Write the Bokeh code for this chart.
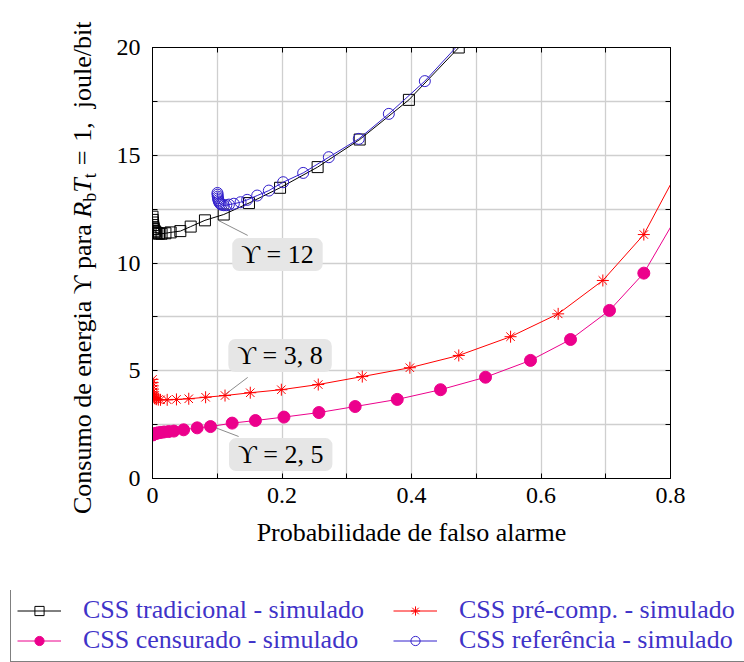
from bokeh.plotting import figure
from bokeh.layouts import column, row
from bokeh.models import Range1d, FixedTicker, LinearAxis, Legend, LegendItem, Label, Div
from bokeh.embed import file_html
from bokeh.resources import INLINE

# ---------------- data ----------------
trad_x = [0.0, 0.0003, 0.0006, 0.001, 0.0015, 0.002, 0.003, 0.004, 0.0055, 0.0075, 0.010,
          0.014, 0.020, 0.028, 0.043, 0.059, 0.081, 0.110, 0.149, 0.197, 0.255, 0.320, 0.396, 0.473]
trad_y = [12.15, 12.0, 11.88, 11.76, 11.66, 11.58, 11.5, 11.45, 11.41, 11.38, 11.36,
          11.36, 11.38, 11.42, 11.48, 11.69, 11.98, 12.25, 12.78, 13.49, 14.45, 15.73, 17.57, 20.0]

ref_x = [0.1003, 0.1005, 0.1008, 0.1012, 0.1018, 0.1026, 0.1036, 0.105, 0.107, 0.110, 0.114,
         0.118, 0.1256, 0.136, 0.1462, 0.1617, 0.1797, 0.2018, 0.2327, 0.2723, 0.3186, 0.365, 0.4206, 0.49]
ref_y = [13.25, 13.17, 13.08, 13.0, 12.92, 12.85, 12.79, 12.74, 12.7, 12.68, 12.68,
         12.71, 12.75, 12.82, 12.93, 13.13, 13.36, 13.75, 14.18, 14.91, 15.76, 16.92, 18.44, 20.7]

pre_x = [0.0, 0.0002, 0.0004, 0.0007, 0.001, 0.0014, 0.002, 0.0028, 0.004, 0.006, 0.009, 0.0124,
         0.0227, 0.037, 0.056, 0.082, 0.112, 0.151, 0.199, 0.256, 0.324, 0.3975, 0.473, 0.553,
         0.6265, 0.6955, 0.7588, 0.82]
pre_y = [4.6, 4.45, 4.3, 4.15, 4.02, 3.92, 3.83, 3.76, 3.71, 3.68, 3.66, 3.65,
         3.65, 3.67, 3.70, 3.77, 3.85, 3.98, 4.12, 4.36, 4.73, 5.14, 5.71, 6.58,
         7.64, 9.19, 11.32, 14.77]

cen_x = [0.0, 0.001, 0.002, 0.004, 0.006, 0.009, 0.013, 0.018, 0.025, 0.033, 0.048, 0.069,
         0.0896, 0.123, 0.159, 0.203, 0.257, 0.313, 0.378, 0.4448, 0.5143, 0.5838, 0.6456,
         0.7058, 0.7588, 0.82]
cen_y = [2.02, 2.04, 2.06, 2.08, 2.10, 2.12, 2.14, 2.16, 2.18, 2.20, 2.26, 2.35,
         2.41, 2.57, 2.69, 2.85, 3.06, 3.34, 3.67, 4.12, 4.70, 5.48, 6.45,
         7.80, 9.53, 12.69]

x_ticks = [0, 0.2, 0.4, 0.6, 0.8]
x_tick_labels = ["0", "0.2", "0.4", "0.6", "0.8"]
x_minor = [0.1, 0.3, 0.5, 0.7]
y_ticks = [0, 5, 10, 15, 20]
y_tick_labels = ["0", "5", "10", "15", "20"]
y_minor = [2.5, 7.5, 12.5, 17.5]

series_labels = ["CSS tradicional - simulado", "CSS pré-comp. - simulado",
                 "CSS censurado - simulado", "CSS referência - simulado"]

# annotation boxes: text, box centre, pin start, pin end (data coords)
ann_text = ["ϒ = 12", "ϒ = 3, 8", "ϒ = 2, 5"]
ann_cx = [0.193, 0.197, 0.198]
ann_cy = [10.39, 5.71, 1.11]
pin_x0 = [0.102, 0.110, 0.0927]
pin_y0 = [11.97, 3.85, 2.41]
pin_x1 = [0.147, 0.147, 0.133]
pin_y1 = [11.28, 4.69, 1.95]

# ---------------- styles ----------------
FONT = "Liberation Serif"
FS = "26px"
BLACK = "#000000"
RED = "#ff0000"
PINK = "#ec008c"
BLUE = "#3320cc"
LEG_TXT = "#3f33c8"
GRID = "#cfcfcf"

LAB_W = 104      # width of the strip holding the rotated y title
TOP_H = 590      # height of the chart row
LEG_H = 72       # height of the legend strip

p = figure(width=744 - LAB_W, height=TOP_H, output_backend="svg", toolbar_location=None,
           x_range=Range1d(0, 0.8), y_range=Range1d(0, 20),
           min_border_left=152 - LAB_W, min_border_right=74, min_border_top=47,
           min_border_bottom=TOP_H - 478)
p.outline_line_color = "black"
p.outline_line_width = 1

xt = FixedTicker(ticks=x_ticks, minor_ticks=x_minor)
yt = FixedTicker(ticks=y_ticks, minor_ticks=y_minor)

for ax, tk, labs, vals in ((p.xaxis[0], xt, x_tick_labels, x_ticks), (p.yaxis[0], yt, y_tick_labels, y_ticks)):
    ax.ticker = tk
    ax.major_label_overrides = dict(zip(vals, labs))
    ax.major_label_text_font = FONT
    ax.major_label_text_font_size = "24px"
    ax.major_label_text_color = "black"
    ax.major_tick_in = 5
    ax.major_tick_out = 0
    ax.minor_tick_in = 5
    ax.minor_tick_out = 0
    ax.major_tick_line_color = "black"
    ax.minor_tick_line_color = "black"
    ax.axis_line_color = "black"

p.xaxis[0].major_label_standoff = 9
p.yaxis[0].major_label_standoff = 12
p.xaxis[0].axis_label = "Probabilidade de falso alarme"
p.xaxis[0].axis_label_text_font = FONT
p.xaxis[0].axis_label_text_font_size = FS
p.xaxis[0].axis_label_text_font_style = "normal"
p.xaxis[0].axis_label_text_color = "black"
p.xaxis[0].axis_label_standoff = 12

for loc, tk, vals in (("right", yt, y_ticks), ("above", xt, x_ticks)):
    ax = LinearAxis(ticker=tk, major_label_overrides={v: "" for v in vals},
                    major_tick_in=5, major_tick_out=0, minor_tick_in=5, minor_tick_out=0,
                    major_tick_line_color="black", minor_tick_line_color="black",
                    axis_line_color="black", major_label_text_font_size="10px")
    p.add_layout(ax, loc)

p.xgrid.ticker = xt
p.ygrid.ticker = yt
for g in (p.xgrid[0], p.ygrid[0]):
    g.grid_line_color = GRID
    g.grid_line_width = 1.3
    g.minor_grid_line_color = GRID
    g.minor_grid_line_width = 1.3

# pin lines
p.segment(pin_x0, pin_y0, pin_x1, pin_y1, line_color="#8c8c8c", line_width=1)


def draw_series(fig):
    out = []
    out.append((fig.line(trad_x, trad_y, line_color=BLACK, line_width=1),
                fig.scatter(trad_x, trad_y, marker="square", size=11, line_color=BLACK,
                            fill_color=None, line_width=1)))
    out.append((fig.line(pre_x, pre_y, line_color=RED, line_width=1),
                fig.scatter(pre_x, pre_y, marker="asterisk", size=12, line_color=RED, line_width=1)))
    out.append((fig.line(cen_x, cen_y, line_color=PINK, line_width=1),
                fig.scatter(cen_x, cen_y, marker="circle", size=12, line_color=PINK, fill_color=PINK)))
    out.append((fig.line(ref_x, ref_y, line_color=BLUE, line_width=1),
                fig.scatter(ref_x, ref_y, marker="circle", size=11, line_color=BLUE,
                            fill_color=None, line_width=1)))
    return out


draw_series(p)

# annotation boxes
for t, cx, cy in zip(ann_text, ann_cx, ann_cy):
    p.add_layout(Label(x=cx, y=cy, text=t, text_align="center", text_baseline="middle",
                       text_font=FONT, text_font_size=FS, text_color="black",
                       background_fill_color="#e6e6e6", background_fill_alpha=1.0,
                       border_radius=7,
                       padding=dict(left=9, right=9, top=2, bottom=2)))

# ---------------- y title (rotated HTML text, real text) ----------------
SUB = "font-size:18px;vertical-align:-5px;line-height:0;font-style:normal"
ytitle_html = (
    '<div style="position:relative;width:%dpx;height:%dpx;overflow:visible;">'
    '<div style="position:absolute;left:70px;top:514px;transform-origin:0 0;'
    'transform:rotate(-90deg);white-space:nowrap;font-family:\'Liberation Serif\';'
    'font-size:26px;line-height:26px;color:#000;">'
    'Consumo de energia ϒ para '
    '<i>R</i><span style="%s">b</span><i>T</i><span style="%s">t</span>'
    '<span style="margin-left:8px">=</span>'
    '<span style="margin-left:9px">1,</span>'
    '<span style="margin-left:14px">joule/bit</span>'
    '</div></div>'
) % (LAB_W, TOP_H, SUB, SUB)
ytitle = Div(text=ytitle_html, width=LAB_W, height=TOP_H, margin=0)

# ---------------- legend strip ----------------
leg = figure(width=744, height=LEG_H, output_backend="svg", toolbar_location=None,
             x_range=Range1d(0, 744), y_range=Range1d(1000, 1100),
             x_axis_type=None, y_axis_type=None,
             min_border_left=0, min_border_right=0, min_border_top=0, min_border_bottom=0)
leg.outline_line_color = None
leg.grid.visible = False
rs = draw_series(leg)
legend = Legend(items=[LegendItem(label=series_labels[i], renderers=list(rs[i])) for i in range(4)],
                location=(10, 0), orientation="horizontal", ncols=2,
                label_text_font=FONT, label_text_font_size=FS, label_text_color=LEG_TXT,
                glyph_width=44, glyph_height=23, label_height=23, label_width=310, label_standoff=22,
                spacing=0, padding=6, margin=0, border_line_color="black", border_line_width=1,
                background_fill_color="white", background_fill_alpha=1.0)
leg.add_layout(legend)

layout = column(row(ytitle, p), leg)
open("out.html", "w").write(file_html(layout, INLINE))
